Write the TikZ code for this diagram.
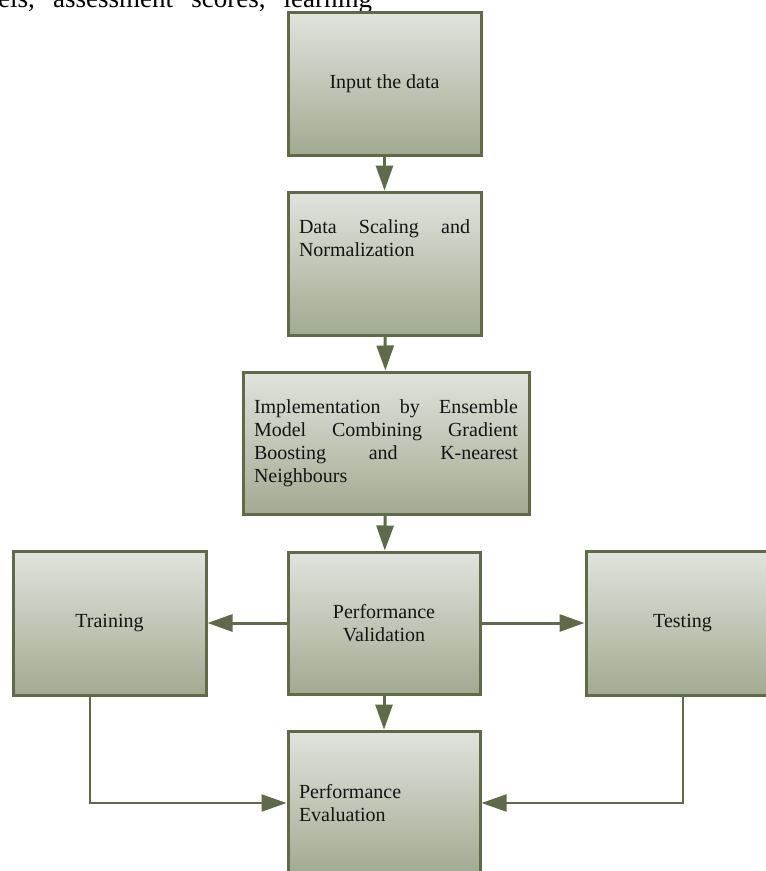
\documentclass[tikz,border=0pt]{standalone}
\usepackage{fontspec}
\setmainfont{Liberation Serif}
\usetikzlibrary{arrows.meta}
\definecolor{edgegreen}{HTML}{5E6A48}
\definecolor{boxtop}{HTML}{E0E4DD}
\definecolor{boxbot}{HTML}{A1AA91}
\definecolor{inkgray}{HTML}{141414}
\newcommand\nohyph{\hyphenpenalty=10000\relax\exhyphenpenalty=10000\relax}
\begin{document}
\begin{tikzpicture}[x=1pt, y=-1pt,
  blk/.style={rectangle, draw=edgegreen, line width=3pt, top color=boxtop, bottom color=boxbot,
    minimum width=193pt, minimum height=143pt, text=inkgray, inner sep=0pt,
    font=\fontsize{20}{23}\selectfont\nohyph},
  arr/.style={edgegreen, line width=3pt, -{Triangle[length=25pt,width=17pt]}},
  thinarr/.style={edgegreen, line width=2pt, -{Triangle[length=25pt,width=17pt]}}]
\useasboundingbox (0,0) rectangle (766,871);
\node[anchor=base west, inner sep=0pt, font=\fontsize{27}{30}\selectfont] (prev) at (-2,7){\hbox to 374pt{els,\hfill assessment\hfill scores,\hfill learning}};
\node[blk] (blk0) at (384.5,83.5){Input the data};
\node[blk, text width=171pt, align=justify] (blk1) at (384.5,263.5){Data Scaling and Normalization\par\vspace{50pt}};
\node[blk, minimum width=286pt, minimum height=142pt, text width=264pt, align=justify] (blk2) at (386,443){Implementation by Ensemble Model Combining Gradient Boosting and K-nearest Neighbours};
\node[blk, minimum width=192pt, minimum height=142pt, align=center] (blk3) at (384,623){Performance\\Validation};
\node[blk, minimum height=144pt] (blk4) at (109.5,623){Training};
\node[blk, minimum height=144pt] (blk5) at (682.5,623){Testing};
\node[blk, minimum width=192pt, minimum height=144pt, text width=170pt, align=left] (blk6) at (384,803){Performance\\Evaluation};
\draw[arr](blk0) -- (blk1);
\draw[arr](blk1) -- (blk2);
\draw[arr](blk2) -- (blk3);
\draw[arr](blk3) -- (blk4);
\draw[arr](blk3) -- (blk5);
\draw[arr](blk3) -- (blk6);
\draw[thinarr]([xshift=-19.5pt]blk4.south) |- (blk6);
\draw[thinarr](blk5) |- (blk6);
\end{tikzpicture}
\end{document}
